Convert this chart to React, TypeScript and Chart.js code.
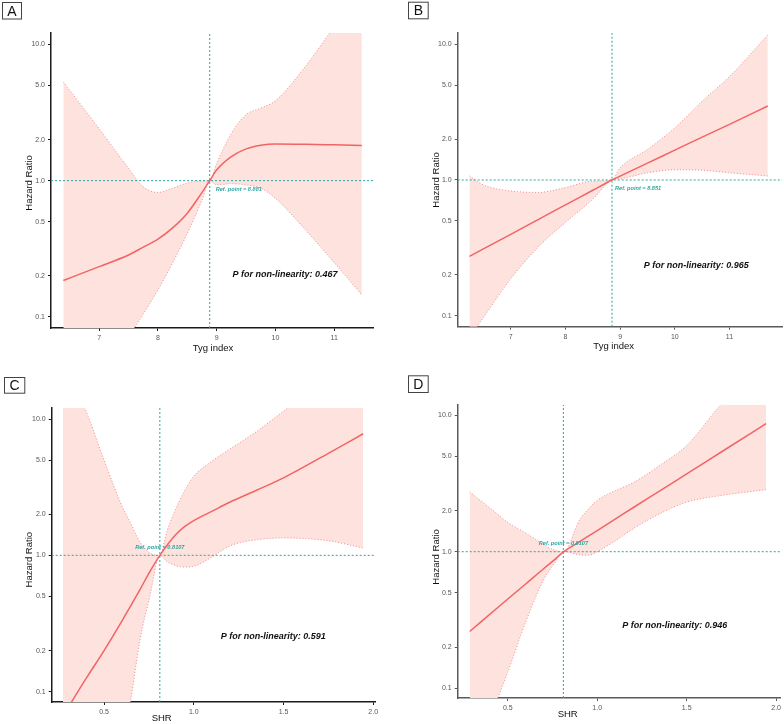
import React, { useEffect, useRef } from "react";
import { Chart, registerables } from "chart.js";
Chart.register(...registerables);

const FONT = "'Liberation Sans', Arial, Helvetica, sans-serif";
const CURVE = "#F26464";
const BAND = "#FDE2DE";
const BAND_EDGE = "#F28C8C";
const TEAL = "#2AA7A3";

const yTicks = [0.1, 0.2, 0.5, 1, 2, 5, 10];

// ---- Panel A: Tyg index ----
const aX = [6.39, 7, 7.5, 7.75, 8, 8.25, 8.5, 8.75, 8.881, 9, 9.25, 9.5, 9.75, 10, 10.5, 11, 11.47];
const aHR = [0.185, 0.234, 0.285, 0.325, 0.372, 0.45, 0.577, 0.82, 1.0, 1.2, 1.5, 1.71, 1.82, 1.86, 1.85, 1.83, 1.81];
const aLower = [0.013, 0.034, 0.072, 0.105, 0.158, 0.25, 0.41, 0.72, 1.0, 0.93, 0.95, 0.93, 0.88, 0.74, 0.44, 0.25, 0.145];
const aUpper = [5.3, 2.4, 1.23, 0.9, 0.82, 0.88, 0.96, 0.995, 1.0, 1.34, 2.22, 3.05, 3.4, 3.85, 6.8, 13.5, 26];
const aXTicks = [7, 8, 9, 10, 11];

// ---- Panel B: Tyg index ----
const bX = [6.245, 6.5, 7, 7.5, 8, 8.5, 8.851, 9, 9.5, 10, 10.5, 11, 11.7];
const bHR = [0.274, 0.311, 0.398, 0.511, 0.655, 0.84, 1.0, 1.068, 1.33, 1.66, 2.07, 2.57, 3.51];
const bLower = [0.07, 0.097, 0.187, 0.32, 0.487, 0.72, 1.0, 1.02, 1.13, 1.19, 1.18, 1.13, 1.07];
const bUpper = [1.07, 0.92, 0.83, 0.81, 0.88, 0.98, 1.0, 1.23, 1.68, 2.42, 3.8, 5.78, 11.7];
const bXTicks = [7, 8, 9, 10, 11];

// ---- Panel C: SHR ----
const cX = [0.271, 0.314, 0.4, 0.5, 0.6, 0.65, 0.7, 0.755, 0.8107, 0.85, 0.9, 0.95, 1.0, 1.1, 1.2, 1.35, 1.5, 1.75, 1.944];
const cHR = [0.066, 0.082, 0.125, 0.2, 0.33, 0.43, 0.56, 0.76, 1.0, 1.18, 1.42, 1.63, 1.8, 2.1, 2.45, 3.0, 3.7, 5.6, 7.8];
const cLower = [0.002, 0.003, 0.006, 0.015, 0.045, 0.09, 0.24, 0.5, 1.0, 0.9, 0.84, 0.82, 0.83, 0.97, 1.17, 1.3, 1.34, 1.28, 1.13];
const cUpper = [28, 20, 11.4, 5.0, 2.3, 1.7, 1.25, 1.04, 1.0, 1.5, 2.2, 3.0, 3.8, 4.9, 6.0, 8.1, 11.4, 20, 30];
const cXTicks = [0.5, 1.0, 1.5, 2.0];

// ---- Panel D: SHR ----
const dX = [0.287, 0.35, 0.444, 0.5, 0.6, 0.7, 0.76, 0.813, 0.9, 0.95, 1.0, 1.1, 1.2, 1.35, 1.5, 1.7, 1.944];
const dHR = [0.26, 0.306, 0.39, 0.45, 0.58, 0.75, 0.87, 1.0, 1.18, 1.3, 1.43, 1.73, 2.1, 2.79, 3.72, 5.45, 8.7];
const dLower = [0.025, 0.045, 0.085, 0.131, 0.305, 0.62, 0.82, 1.0, 0.95, 0.94, 1.0, 1.2, 1.47, 1.9, 2.31, 2.59, 2.85];
const dUpper = [2.74, 2.36, 1.88, 1.64, 1.37, 1.13, 1.03, 1.0, 1.7, 2.05, 2.38, 2.8, 3.2, 4.3, 6.0, 12.3, 24];
const dXTicks = [0.5, 1.0, 1.5, 2.0];

const W = 392;
const H = 362;

type PanelProps = {
  label: string;
  xs: number[];
  hr: number[];
  lower: number[];
  upper: number[];
  xTicks: number[];
  xDecimals: number;
  xMin: number;
  xMax: number;
  yMin: number;
  yMax: number;
  refX: number;
  refText: string;
  refAbove: boolean;
  refDx: number;
  refDy: number;
  pText: string;
  xTitle: string;
  area: { l: number; r: number; t: number; b: number };
  box: [number, number, number, number];
  yTitlePos: [number, number];
  xTitlePos: [number, number];
  pPos: [number, number];
  axisColor: string;
  left: number;
  top: number;
};

const Y_AXIS_W = 40;
const X_AXIS_H = 20;

function Panel(p: PanelProps) {
  const ref = useRef<HTMLCanvasElement>(null);
  useEffect(() => {
    if (!ref.current) return;
    const pts = (arr: number[]) => p.xs.map((x, i) => ({ x, y: arr[i] }));
    const textPlugin = {
      id: "panelText" + p.label,
      afterDraw(chart: any) {
        const ctx = chart.ctx as CanvasRenderingContext2D;
        const xsc = chart.scales.x;
        const ysc = chart.scales.y;
        ctx.save();
        ctx.strokeStyle = "#444";
        ctx.lineWidth = 1;
        ctx.strokeRect(p.box[0] + 0.5, p.box[1] + 0.5, p.box[2], p.box[3]);
        ctx.fillStyle = "#111";
        ctx.font = `14px ${FONT}`;
        ctx.textAlign = "center";
        ctx.textBaseline = "middle";
        ctx.fillText(p.label, p.box[0] + p.box[2] / 2 + 0.5, p.box[1] + p.box[3] / 2 + 1.5);
        ctx.font = `9.5px ${FONT}`;
        ctx.fillStyle = "#111";
        ctx.save();
        ctx.translate(p.yTitlePos[0], p.yTitlePos[1]);
        ctx.rotate(-Math.PI / 2);
        ctx.fillText("Hazard Ratio", 0, 0);
        ctx.restore();
        ctx.fillText(p.xTitle, p.xTitlePos[0], p.xTitlePos[1]);
        ctx.font = `italic bold 9px ${FONT}`;
        ctx.fillText(p.pText, p.pPos[0], p.pPos[1]);
        const rx = xsc.getPixelForValue(p.refX);
        const ry = ysc.getPixelForValue(1);
        ctx.fillStyle = TEAL;
        ctx.font = `italic bold 5.6px ${FONT}`;
        ctx.textAlign = p.refAbove ? "center" : "left";
        ctx.fillText(p.refText, rx + p.refDx, ry + p.refDy);
        ctx.restore();
      },
    };

    const chart = new Chart(ref.current, {
      type: "line",
      data: {
        datasets: [
          {
            label: "upper",
            data: pts(p.upper),
            borderColor: BAND_EDGE,
            borderWidth: 1,
            borderDash: [1, 2],
            pointRadius: 0,
            fill: false,
            cubicInterpolationMode: "monotone",
            clip: 0,
            order: 4,
          },
          {
            label: "lower",
            data: pts(p.lower),
            borderColor: BAND_EDGE,
            borderWidth: 1,
            borderDash: [1, 2],
            pointRadius: 0,
            backgroundColor: BAND,
            fill: 0,
            cubicInterpolationMode: "monotone",
            clip: 0,
            order: 5,
          },
          {
            label: "HR",
            data: pts(p.hr),
            borderColor: CURVE,
            borderWidth: 1.5,
            pointRadius: 0,
            fill: false,
            cubicInterpolationMode: "monotone",
            order: 1,
          },
          {
            label: "h1",
            data: [
              { x: p.xMin, y: 1 },
              { x: p.xMax, y: 1 },
            ],
            borderColor: TEAL,
            borderWidth: 1,
            borderDash: [2, 2],
            pointRadius: 0,
            fill: false,
            order: 2,
          },
          {
            label: "vref",
            data: [
              { x: p.refX, y: p.yMin },
              { x: p.refX, y: p.yMax },
            ],
            borderColor: TEAL,
            borderWidth: 1,
            borderDash: [2, 2],
            pointRadius: 0,
            fill: false,
            order: 2,
          },
        ],
      } as any,
      options: {
        animation: false,
        responsive: false,
        maintainAspectRatio: false,
        events: [],
        layout: {
          padding: {
            left: p.area.l - Y_AXIS_W,
            top: p.area.t,
            right: W - p.area.r,
            bottom: H - p.area.b - X_AXIS_H,
          },
        },
        plugins: {
          legend: { display: false },
          tooltip: { enabled: false },
          title: { display: false },
        },
        scales: {
          x: {
            type: "linear",
            min: p.xMin,
            max: p.xMax,
            afterBuildTicks: (scale: any) => {
              scale.ticks = p.xTicks.map((v) => ({ value: v }));
            },
            afterFit: (scale: any) => {
              scale.height = X_AXIS_H;
            },
            ticks: {
              autoSkip: false,
              maxRotation: 0,
              padding: 3,
              color: "#555",
              font: { family: FONT, size: 7 },
              callback: (v: any) => Number(v).toFixed(p.xDecimals),
            },
            grid: {
              display: true,
              drawOnChartArea: false,
              drawTicks: true,
              tickLength: 3,
              color: p.axisColor,
            },
            border: { display: true, color: p.axisColor, width: 1.5 },
          },
          y: {
            type: "logarithmic",
            min: p.yMin,
            max: p.yMax,
            afterBuildTicks: (scale: any) => {
              scale.ticks = yTicks.map((v) => ({ value: v }));
            },
            afterFit: (scale: any) => {
              scale.width = Y_AXIS_W;
            },
            ticks: {
              autoSkip: false,
              padding: 3,
              color: "#555",
              font: { family: FONT, size: 7 },
              callback: (v: any) => Number(v).toFixed(1),
            },
            grid: {
              display: true,
              drawOnChartArea: false,
              drawTicks: true,
              tickLength: 3,
              color: p.axisColor,
            },
            border: { display: true, color: p.axisColor, width: 1.5 },
          },
        },
      } as any,
      plugins: [textPlugin],
    });
    return () => chart.destroy();
  }, []);
  return (
    <canvas
      ref={ref}
      width={W}
      height={H}
      style={{ position: "absolute", left: p.left, top: p.top, width: W, height: H }}
    />
  );
}

export default function App() {
  return (
    <div style={{ position: "absolute", left: 0, top: 0, width: 784, height: 724, background: "#fff" }}>
      <Panel
        label="A"
        xs={aX}
        hr={aHR}
        lower={aLower}
        upper={aUpper}
        xTicks={aXTicks}
        xDecimals={0}
        xMin={6.18}
        xMax={11.66}
        yMin={0.083}
        yMax={12.1}
        refX={8.881}
        refText="Ref. point = 8.881"
        refAbove={false}
        refDx={6}
        refDy={8.5}
        pText="P for non-linearity: 0.467"
        xTitle="Tyg index"
        area={{ l: 51, r: 373, t: 33, b: 328 }}
        box={[2, 2, 19, 16.5]}
        yTitlePos={[29, 183]}
        xTitlePos={[213, 348]}
        pPos={[285, 275]}
        axisColor="#1a1a1a"
        left={0}
        top={0}
      />
      <Panel
        label="B"
        xs={bX}
        hr={bHR}
        lower={bLower}
        upper={bUpper}
        xTicks={bXTicks}
        xDecimals={0}
        xMin={6.03}
        xMax={11.96}
        yMin={0.083}
        yMax={12.1}
        refX={8.851}
        refText="Ref. point = 8.851"
        refAbove={false}
        refDx={3}
        refDy={8.3}
        pText="P for non-linearity: 0.965"
        xTitle="Tyg index"
        area={{ l: 65.7, r: 390, t: 33, b: 326.7 }}
        box={[16, 1.7, 19.7, 16.6]}
        yTitlePos={[44.3, 180]}
        xTitlePos={[221.7, 346.7]}
        pPos={[304.3, 266]}
        axisColor="#5a5a5a"
        left={392}
        top={0}
      />
      <Panel
        label="C"
        xs={cX}
        hr={cHR}
        lower={cLower}
        upper={cUpper}
        xTicks={cXTicks}
        xDecimals={1}
        xMin={0.208}
        xMax={2.01}
        yMin={0.0839}
        yMax={12.05}
        refX={0.8107}
        refText="Ref. point = 0.8107"
        refAbove={true}
        refDx={0}
        refDy={-8}
        pText="P for non-linearity: 0.591"
        xTitle="SHR"
        area={{ l: 51.7, r: 375, t: 46, b: 340 }}
        box={[4, 15, 20.3, 15.7]}
        yTitlePos={[29.3, 197.7]}
        xTitlePos={[161.7, 356.5]}
        pPos={[273.3, 275]}
        axisColor="#1a1a1a"
        left={0}
        top={362}
      />
      <Panel
        label="D"
        xs={dX}
        hr={dHR}
        lower={dLower}
        upper={dUpper}
        xTicks={dXTicks}
        xDecimals={1}
        xMin={0.22}
        xMax={2.026}
        yMin={0.0846}
        yMax={11.96}
        refX={0.8107}
        refText="Ref. point = 0.8107"
        refAbove={true}
        refDx={0}
        refDy={-8.7}
        pText="P for non-linearity: 0.946"
        xTitle="SHR"
        area={{ l: 65.7, r: 390.7, t: 42.7, b: 336 }}
        box={[16, 13.3, 19.7, 16.7]}
        yTitlePos={[44.3, 195]}
        xTitlePos={[175.7, 352.7]}
        pPos={[282.7, 264]}
        axisColor="#5a5a5a"
        left={392}
        top={362}
      />
    </div>
  );
}
